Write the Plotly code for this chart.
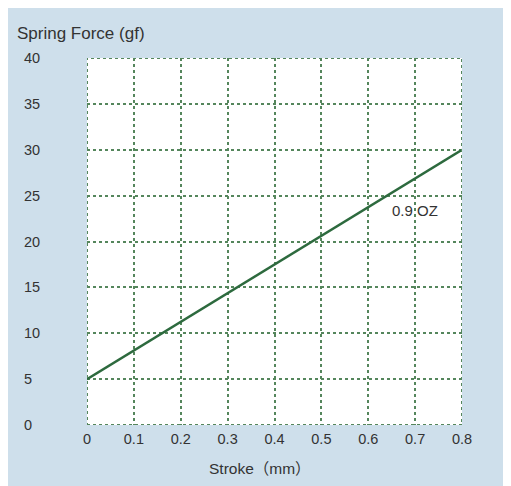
import plotly.graph_objects as go

# Data
stroke = [0.0, 0.8]
force = [5.0, 30.0]
x_ticks = [0, 0.1, 0.2, 0.3, 0.4, 0.5, 0.6, 0.7, 0.8]
x_tick_labels = ["0", "0.1", "0.2", "0.3", "0.4", "0.5", "0.6", "0.7", "0.8"]
y_ticks = [0, 5, 10, 15, 20, 25, 30, 35, 40]
y_tick_labels = ["0", "5", "10", "15", "20", "25", "30", "35", "40"]
series_label = "0.9 OZ"
label_pos = (0.7, 23.4)

OFF = 8  # page body margin
W, H = 511, 486
# plot area in page pixels: x 87..462, y 58..425
L = 87 - OFF
T = 58 - OFF
PW, PH = 375, 367
R = W - L - PW
B = H - T - PH

def px(x):
    return (x - OFF - L) / PW

def py(y):
    return (T + PH - (y - OFF)) / PH

BLUE = "#cedfeb"
GRID = "#55865c"
LINE = "#2d6a3e"
TXT = "#333333"
FONT = "Liberation Sans, Arial, Noto Sans CJK SC, sans-serif"

fig = go.Figure()
fig.add_trace(go.Scatter(x=stroke, y=force, mode="lines",
                         line=dict(color=LINE, width=2.5),
                         showlegend=False, hoverinfo="skip"))

shapes = [
    dict(type="rect", xref="x", yref="y", x0=x_ticks[0], x1=x_ticks[-1], y0=y_ticks[0], y1=y_ticks[-1],
         line=dict(color=GRID, width=2, dash="3px,3px"), layer="above"),
]

annotations = []
for v, t in zip(y_ticks, y_tick_labels):
    annotations.append(dict(x=px(22), y=v, xref="paper", yref="y", text=t, showarrow=False,
                            xanchor="left", yanchor="middle",
                            font=dict(size=14.5, color=TXT, family=FONT)))
annotations.append(dict(x=px(15), y=py(34), xref="paper", yref="paper", text="Spring Force (gf)",
                        showarrow=False, xanchor="left", yanchor="middle",
                        font=dict(size=17, color=TXT, family=FONT)))
annotations.append(dict(x=px(260), y=py(468), xref="paper", yref="paper", text="Stroke（mm）",
                        showarrow=False, xanchor="center", yanchor="middle",
                        font=dict(size=15.5, color=TXT, family=FONT)))
annotations.append(dict(x=label_pos[0], y=label_pos[1], xref="x", yref="y", text=series_label,
                        showarrow=False, xanchor="center", yanchor="middle",
                        font=dict(size=15, color=TXT, family=FONT)))

fig.update_layout(
    width=W, height=H,
    margin=dict(l=L, r=R, t=T, b=B, pad=0),
    paper_bgcolor=BLUE, plot_bgcolor="white",
    shapes=shapes, annotations=annotations,
    xaxis=dict(range=[x_ticks[0], x_ticks[-1]], tickvals=x_ticks, ticktext=x_tick_labels,
               showgrid=True, gridcolor=GRID, gridwidth=1.5, griddash="3px,3px",
               zeroline=False, showline=False, ticks="", ticklabelstandoff=3,
               tickfont=dict(size=14.5, color=TXT, family=FONT), fixedrange=True),
    yaxis=dict(range=[y_ticks[0], y_ticks[-1]], tickvals=y_ticks, showticklabels=False,
               showgrid=True, gridcolor=GRID, gridwidth=1.5, griddash="3px,3px",
               zeroline=False, showline=False, ticks="", fixedrange=True),
)

fig.write_html("out.html")
